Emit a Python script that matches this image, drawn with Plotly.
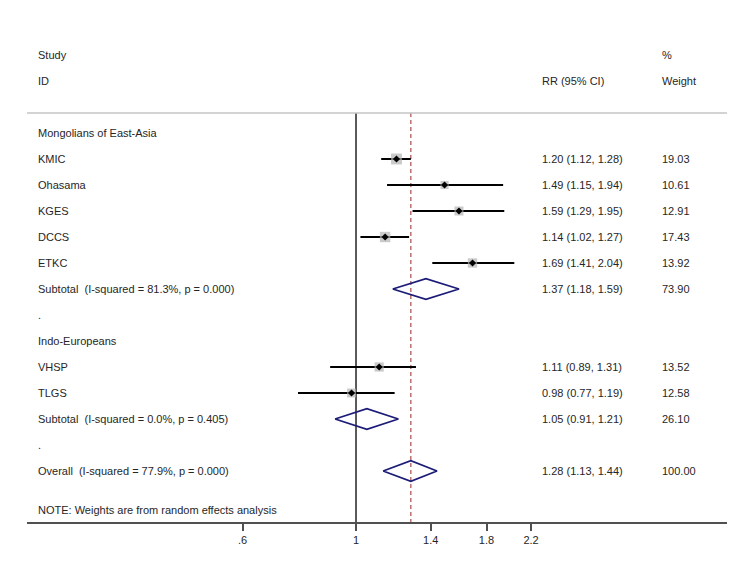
import plotly.graph_objects as go

# ---- data ----
study_labels = ["KMIC", "Ohasama", "KGES", "DCCS", "ETKC", "VHSP", "TLGS"]
study_rows = [1, 2, 3, 4, 5, 9, 10]
study_rr = [1.20, 1.49, 1.59, 1.14, 1.69, 1.11, 0.98]
study_lo = [1.12, 1.15, 1.29, 1.02, 1.41, 0.89, 0.77]
study_hi = [1.28, 1.94, 1.95, 1.27, 2.04, 1.31, 1.19]
study_weight = [19.03, 10.61, 12.91, 17.43, 13.92, 13.52, 12.58]

pooled_labels = ["Subtotal  (I-squared = 81.3%, p = 0.000)",
                 "Subtotal  (I-squared = 0.0%, p = 0.405)",
                 "Overall  (I-squared = 77.9%, p = 0.000)"]
pooled_rows = [6, 11, 13]
pooled_rr = [1.37, 1.05, 1.28]
pooled_lo = [1.18, 0.91, 1.13]
pooled_hi = [1.59, 1.21, 1.44]
pooled_weight = [73.90, 26.10, 100.00]

group_labels = ["Mongolians of East-Asia", ".", "Indo-Europeans", "."]
group_rows = [0, 7, 8, 12]

overall_rr = 1.28
tick_vals = [0.6, 1, 1.4, 1.8, 2.2]
tick_text = [".6", "1", "1.4", "1.8", "2.2"]

# ---- figure ----
FONT = "Liberation Sans, Arial, Helvetica, sans-serif"
TXT = "#262626"
fig = go.Figure()

# reference lines
fig.add_trace(go.Scatter(x=[1, 1], y=[-0.77, 14.96], mode="lines",
                         line=dict(color="black", width=1.3), hoverinfo="skip", showlegend=False))
fig.add_trace(go.Scatter(x=[overall_rr, overall_rr], y=[-0.77, 14.96], mode="lines",
                         line=dict(color="#b05a5a", width=1.3, dash="4px,3px"),
                         hoverinfo="skip", showlegend=False))

# CI lines
for r, lo, hi in zip(study_rows, study_lo, study_hi):
    fig.add_trace(go.Scatter(x=[lo, hi], y=[r, r], mode="lines",
                             line=dict(color="black", width=2), hoverinfo="skip", showlegend=False))

# weight squares
fig.add_trace(go.Scatter(x=study_rr, y=study_rows, mode="markers",
                         marker=dict(symbol="square", color="#b4b4b4",
                                     size=[2.5 * w ** 0.5 for w in study_weight], line=dict(width=0)),
                         hoverinfo="skip", showlegend=False))
fig.add_trace(go.Scatter(x=study_rr, y=study_rows, mode="markers",
                         marker=dict(symbol="diamond", color="black", size=5.5),
                         hoverinfo="skip", showlegend=False))

# diamonds
for r, est, lo, hi in zip(pooled_rows, pooled_rr, pooled_lo, pooled_hi):
    fig.add_trace(go.Scatter(x=[lo, est, hi, est, lo], y=[r, r - 0.4, r, r + 0.4, r],
                             mode="lines", line=dict(color="#1c1c78", width=1.8),
                             hoverinfo="skip", showlegend=False))

# top separator line
fig.add_shape(type="line", xref="paper", yref="y", x0=0, x1=1.0, y0=-0.77, y1=-0.77,
              line=dict(color="#c4c4c4", width=1.5))

ann = []
def txt(x, y, s):
    ann.append(dict(x=x, y=y, xref="paper", yref="y", text=s, showarrow=False,
                    xanchor="left", yanchor="middle", font=dict(size=11, color=TXT, family=FONT)))

LX, RX, WX = 0.0129, 0.733, 0.904
txt(LX, -3, "Study")
txt(LX, -2, "ID")
txt(RX, -2, "RR (95% CI)")
txt(WX, -3, "%")
txt(WX, -2, "Weight")
for s, r in zip(group_labels, group_rows):
    txt(LX, r, s)
for s, r, est, lo, hi, w in zip(study_labels, study_rows, study_rr, study_lo, study_hi, study_weight):
    txt(LX, r, s)
    txt(RX, r, f"{est:.2f} ({lo:.2f}, {hi:.2f})")
    txt(WX, r, f"{w:.2f}")
for s, r, est, lo, hi, w in zip(pooled_labels, pooled_rows, pooled_rr, pooled_lo, pooled_hi, pooled_weight):
    txt(LX, r, s)
    txt(RX, r, f"{est:.2f} ({lo:.2f}, {hi:.2f})")
    txt(WX, r, f"{w:.2f}")
txt(LX, 14.5, "NOTE: Weights are from random effects analysis")

fig.update_layout(
    width=741, height=572,
    margin=dict(l=19, r=22, t=0, b=58),
    paper_bgcolor="white", plot_bgcolor="white",
    annotations=ann,
    xaxis=dict(type="log", range=[-0.6436, 0.7257], tickvals=tick_vals, ticktext=tick_text,
               showgrid=False, zeroline=False, showline=True, linecolor="#505050", linewidth=2,
               ticks="outside", ticklen=7, tickwidth=1.5, tickcolor="#505050",
               tickfont=dict(size=11, color=TXT, family=FONT)),
    yaxis=dict(range=[14.962, -4.808], showgrid=False, zeroline=False, showticklabels=False,
               showline=False),
)

fig.write_html("out.html")
